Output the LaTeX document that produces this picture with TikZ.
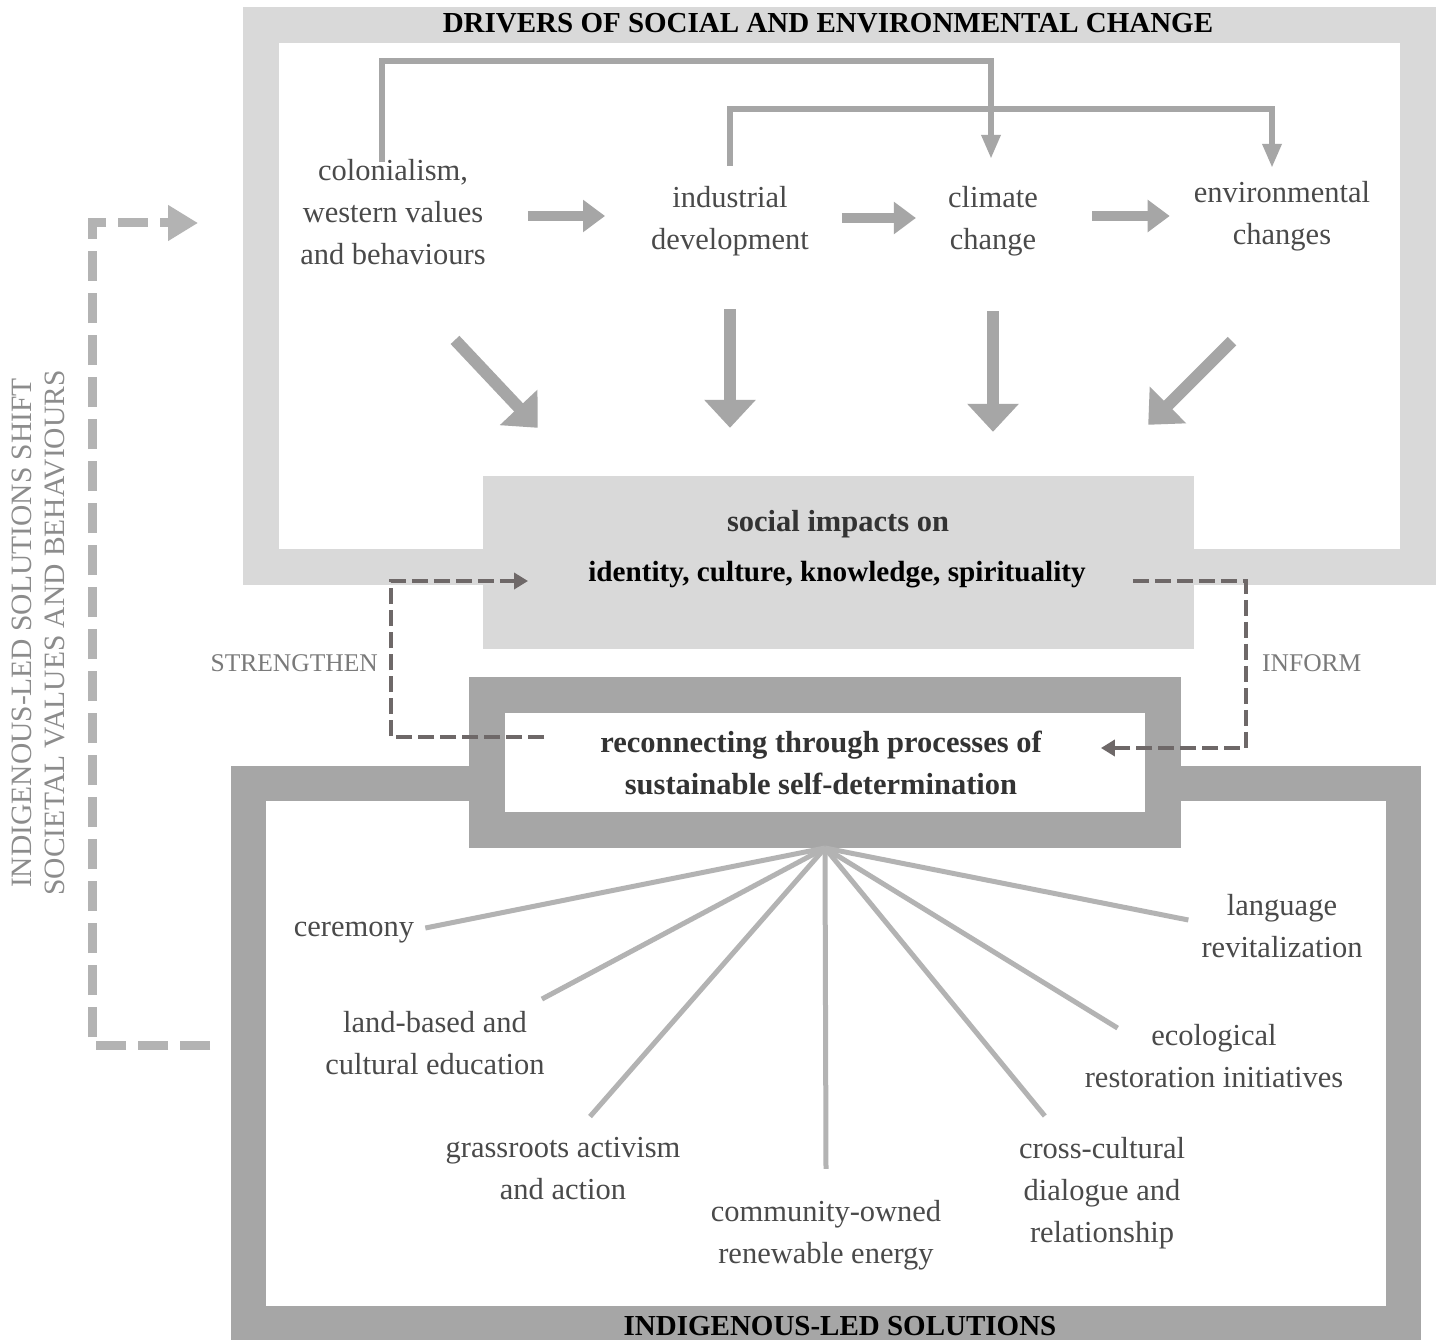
\documentclass[tikz,border=0pt]{standalone}
\usepackage{fontspec}
\setmainfont{Liberation Serif}
\usetikzlibrary{arrows.meta,calc}

\definecolor{framelight}{HTML}{D9D9D9}
\definecolor{framedark}{HTML}{A6A6A6}
\definecolor{arrowgray}{HTML}{A6A6A6}
\definecolor{spokegray}{HTML}{B3B3B3}
\definecolor{loopgray}{HTML}{6E6868}
\definecolor{txtgray}{HTML}{4A4A4A}
\definecolor{capgray}{HTML}{7A7A7A}
\definecolor{sidegray}{HTML}{8C8C8C}

\tikzset{
  lbl/.style={font=\fontsize{30.5}{42}\selectfont, text=txtgray, align=center, inner sep=0pt},
  headline/.style={font=\bfseries\fontsize{29}{34}\selectfont, text=black, align=center, inner sep=0pt},
  boldlbl/.style={font=\bfseries\fontsize{30.5}{42}\selectfont, align=center, inner sep=0pt},
  capslbl/.style={font=\fontsize{25.5}{28}\selectfont, text=capgray, inner sep=0pt},
  bigarrow/.style={draw=arrowgray, line width=12pt, -{Triangle[length=28pt,width=50pt]}},
  sidearrow/.style={draw=arrowgray, line width=10pt, -{Triangle[length=22pt,width=31pt]}},
  bracket/.style={draw=arrowgray, line width=6pt, -{Triangle[length=24pt,width=18pt]}},
  spoke/.style={draw=spokegray, line width=5pt},
  loopdash/.style={draw=loopgray, line width=4pt, dash pattern=on 16pt off 6pt, -{Triangle[length=14pt,width=16pt]}},
  bigdash/.style={draw=spokegray, line width=9pt, dash pattern=on 30pt off 12pt, -{Triangle[length=30pt,width=34pt]}},
  framebox/.style={inner sep=0pt, fill=white}
}

\begin{document}
\begin{tikzpicture}[x=1pt,y=-1pt]
\useasboundingbox (0,0) rectangle (1440,1340);
\fill[white] (0,0) rectangle (1440,1340);

% ---- frames ----
\node[framebox, draw=framelight, line width=36pt, minimum width=1157pt, minimum height=542pt] (drivers) at (839.5,296) {};
\node[framebox, draw=framedark, line width=35pt, minimum width=1155pt, minimum height=540pt] (solutions) at (826,1053) {};
\node[inner sep=0pt, fill=framelight, minimum width=711pt, minimum height=173pt] (impact) at (838.5,562.5) {};
\node[framebox, draw=framedark, line width=36pt, minimum width=676pt, minimum height=135pt] (reconbox) at (825,762.5) {};

% ---- titles ----
\node[headline] (drvtitle) at (828,23) {DRIVERS OF SOCIAL AND ENVIRONMENTAL CHANGE};
\node[headline] (soltitle) at (840,1326) {INDIGENOUS-LED SOLUTIONS};

% ---- drivers ----
\node[lbl] (col) at (393,212) {colonialism,\\western values\\and behaviours};
\node[lbl] (ind) at (730,221) {industrial\\development};
\node[lbl] (clim) at (993,221) {climate\\change};
\node[lbl] (env) at (1282,216) {environmental\\changes};

\draw[sidearrow, shorten <=42pt, shorten >=46pt] (col.east |- 0,216) -- (ind.west |- 0,216);
\draw[sidearrow, shorten <=33pt, shorten >=32pt] (ind.east |- 0,218) -- (clim.west |- 0,218);
\draw[sidearrow, shorten <=54pt, shorten >=24pt] (clim.east |- 0,216) -- (env.west |- 0,216);

\coordinate (railA) at (0,61);
\coordinate (railB) at (0,109);
\draw[bracket] ([xshift=-11pt,yshift=-3pt]col.north) -- ([xshift=-11pt]col.north |- railA) -| ([xshift=-2pt,yshift=27pt]clim.north);
\draw[bracket] ([yshift=20pt]ind.north) -- (ind.north |- railB) -| ([xshift=-10pt,yshift=13pt]env.north);

% ---- impacts ----
\node[boldlbl, text=black!80] (soc) at (838,524) {social impacts on};
\node[boldlbl, text=black, font=\bfseries\fontsize{29.2}{42}\selectfont] (ident) at (837,575) {identity, culture, knowledge, spirituality};

\draw[bigarrow] ($(col.south)+(62,75)$) -- ($(impact.north west)+(55,-48)$);
\draw[bigarrow, shorten <=53pt, shorten >=48pt] (ind.south) -- (ind.south |- impact.north);
\draw[bigarrow, shorten <=55pt, shorten >=44pt] (clim.south) -- (clim.south |- impact.north);
\draw[bigarrow] ($(env.south)+(-50,90)$) -- ($(impact.north east)+(-46,-51)$);

% ---- reconnecting ----
\node[boldlbl, text=black!80] (recon) at (821,763) {reconnecting through processes of\\sustainable self-determination};

\node[capslbl, anchor=east] (str) at (378,663) {STRENGTHEN};
\node[capslbl, anchor=west] (inf) at (1262,663) {INFORM};

\draw[loopdash] ([xshift=-56pt,yshift=26pt]recon.west) -| ([xshift=13pt]str.east) |- ([xshift=-60pt,yshift=-6pt]ident.west);
\draw[loopdash] ([xshift=47pt,yshift=-6pt]ident.east) -| ([xshift=-16pt]inf.west) |- ([xshift=59pt,yshift=15pt]recon.east);

% ---- outer loop ----
\node[font=\fontsize{29.5}{33}\selectfont, text=sidegray, rotate=90, align=center, inner sep=0pt] (shift) at (38,633) {INDIGENOUS-LED SOLUTIONS SHIFT\\SOCIETAL VALUES AND BEHAVIOURS};
\coordinate (loopL) at (92,0);
\coordinate (loopS) at ([xshift=-21pt,yshift=8pt]solutions.west);
\coordinate (loopT) at ([xshift=-45pt,yshift=73pt]drivers.west);
\draw[bigdash] (loopS) -- (loopS -| loopL) -- (loopL |- loopT) -- (loopT);

% ---- solutions ----
\coordinate (hub) at (reconbox.south);
\node[lbl] (cer) at (354,933) {ceremony};
\node[lbl] (land) at (435,1043) {land-based and\\cultural education};
\node[lbl] (grass) at (563,1169) {grassroots activism\\and action};
\node[lbl] (comm) at (826,1235) {community-owned\\renewable energy};
\node[lbl] (cross) at (1102,1193) {cross-cultural\\dialogue and\\relationship};
\node[lbl] (eco) at (1214,1056) {ecological\\restoration initiatives};
\node[lbl] (lang) at (1282,926) {language\\revitalization};

\draw[spoke] (hub) -- ($(cer.east |- 0,928)+(11,0)$);
\draw[spoke] (hub) -- ($(land.north east)+(-3,-12)$);
\draw[spoke] (hub) -- ($(grass.north)+(27,-21)$);
\draw[spoke] (hub) -- ($(comm.north)+(0,-31)$);
\draw[spoke] (hub) -- ($(cross.north west)+(26,-21)$);
\draw[spoke] (hub) -- ($(eco.north west)+(33,4)$);
\draw[spoke] (hub) -- ($(lang.west)+(-13,-6)$);
\end{tikzpicture}
\end{document}
